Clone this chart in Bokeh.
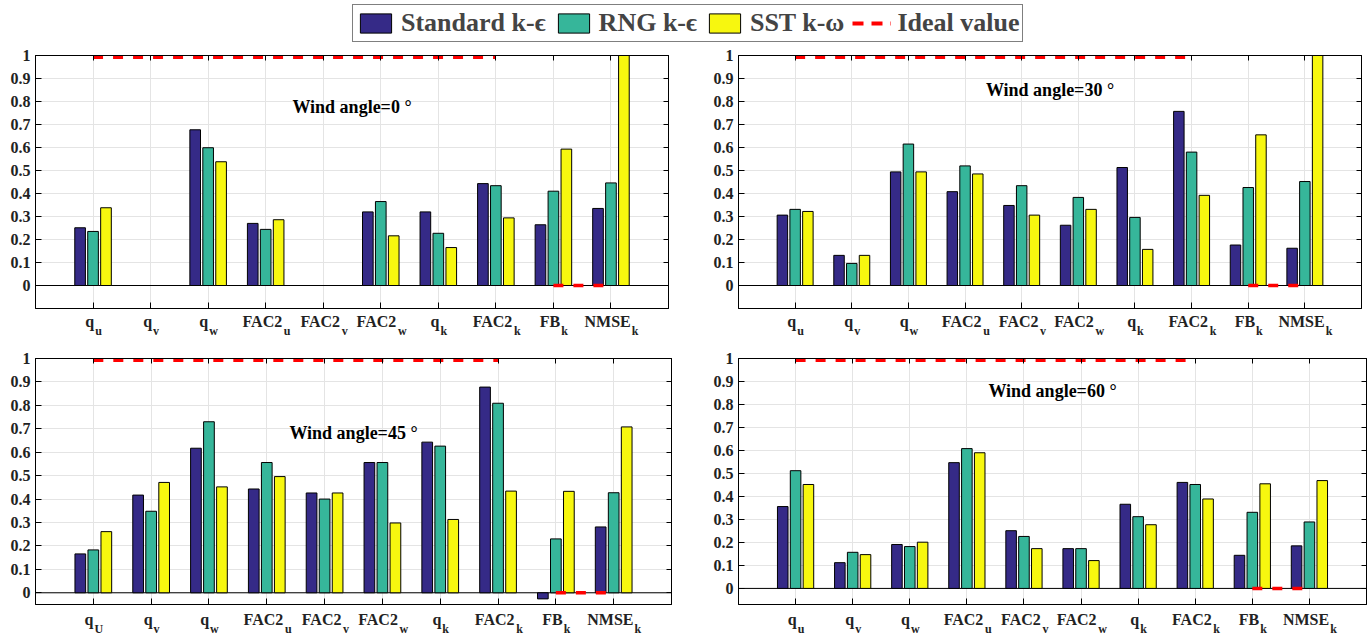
from bokeh.plotting import figure
from bokeh.models import (Range1d, FixedTicker, LinearAxis, ColumnDataSource,
                          Label, Legend, LegendItem, Span)
from bokeh.layouts import column, row
from bokeh.transform import dodge
from bokeh.embed import file_html
from bokeh.resources import INLINE

# ---------------- data ----------------
metric_main = ["q", "q", "q", "FAC2", "FAC2", "FAC2", "q", "FAC2", "FB", "NMSE"]
metric_sub = ["u", "v", "w", "u", "v", "w", "k", "k", "k", "k"]
metric_sub_45 = ["U", "v", "w", "u", "v", "w", "k", "k", "k", "k"]

series_names = ["Standard k-\u03f5", "RNG k-\u03f5", "SST k-\u03c9"]
ideal_name = "Ideal value"
ideal_value = [1, 1, 1, 1, 1, 1, 1, 1, 0, 0]

y_ticks = [0, 0.1, 0.2, 0.3, 0.4, 0.5, 0.6, 0.7, 0.8, 0.9, 1]
y_tick_labels = ["0", "0.1", "0.2", "0.3", "0.4", "0.5", "0.6", "0.7", "0.8", "0.9", "1"]

titles = ["Wind angle=0 \u00b0", "Wind angle=30 \u00b0", "Wind angle=45 \u00b0", "Wind angle=60 \u00b0"]

std_0 = [0.251, 0.0, 0.677, 0.270, 0.0, 0.320, 0.320, 0.443, 0.264, 0.335]
rng_0 = [0.235, 0.0, 0.599, 0.244, 0.0, 0.365, 0.227, 0.434, 0.410, 0.446]
sst_0 = [0.338, 0.0, 0.538, 0.286, 0.0, 0.216, 0.165, 0.294, 0.593, 1.0]

std_30 = [0.306, 0.131, 0.494, 0.408, 0.348, 0.262, 0.513, 0.757, 0.176, 0.162]
rng_30 = [0.331, 0.096, 0.615, 0.520, 0.434, 0.383, 0.296, 0.580, 0.426, 0.452]
sst_30 = [0.322, 0.131, 0.494, 0.485, 0.306, 0.331, 0.157, 0.392, 0.655, 1.0]

std_45 = [0.166, 0.417, 0.617, 0.443, 0.426, 0.556, 0.643, 0.878, -0.026, 0.281]
rng_45 = [0.183, 0.348, 0.730, 0.556, 0.400, 0.556, 0.626, 0.809, 0.230, 0.427]
sst_45 = [0.261, 0.471, 0.452, 0.496, 0.426, 0.298, 0.313, 0.434, 0.433, 0.708]

std_60 = [0.356, 0.112, 0.191, 0.547, 0.251, 0.173, 0.366, 0.461, 0.144, 0.185]
rng_60 = [0.512, 0.157, 0.182, 0.608, 0.226, 0.173, 0.312, 0.452, 0.331, 0.289]
sst_60 = [0.452, 0.147, 0.201, 0.590, 0.173, 0.121, 0.277, 0.389, 0.455, 0.469]

# ---------------- style ----------------
FONT = "Liberation Serif"
COLORS = ["#352a87", "#36b69a", "#f7f70f"]
IDEAL_COLOR = "#ff0000"
GRID = "#e4e4e4"
TXT = "#222222"
MAIN_FS = 16
SUB_FS = 12

# approximate Times-Bold advance widths (em) used to place label + subscript
CW = {"q": .556, "F": .611, "A": .722, "C": .722, "2": .5, "B": .667, "N": .722,
      "M": .944, "S": .556, "E": .667, "u": .556, "v": .5, "w": .722, "k": .556,
      "U": .722}


def tw(s, fs):
    return sum(CW.get(c, .55) for c in s) * fs


x_pos = list(range(1, len(metric_main) + 1))


def label_axis(ticks, labels, fs, standoff):
    ticks = [round(t, 6) for t in ticks]
    ax = LinearAxis(ticker=FixedTicker(ticks=ticks),
                    major_label_overrides={t: l for t, l in zip(ticks, labels)},
                    major_label_text_font=FONT, major_label_text_font_style="bold",
                    major_label_text_font_size=f"{fs}px", major_label_text_color=TXT,
                    major_label_standoff=standoff, axis_line_color=None,
                    major_tick_line_color=None, minor_tick_line_color=None,
                    major_tick_in=0, major_tick_out=0)
    return ax


def tick_only(ax, ticks, tick_len):
    ax.ticker = FixedTicker(ticks=ticks)
    ax.major_label_text_color = None
    ax.major_label_text_font_size = "1px"
    ax.major_label_standoff = 0
    ax.major_tick_in = tick_len
    ax.major_tick_out = 0
    ax.minor_tick_line_color = None
    ax.axis_line_color = "black"
    ax.major_tick_line_color = "black"


def make_panel(std, rng, sst, subs, title, title_y, ylo, width, height,
               bl, br, bt, bb, main_standoff):
    x_end = len(x_pos) + 1
    p = figure(width=width, height=height, x_range=Range1d(0, x_end),
               y_range=Range1d(ylo, 1), toolbar_location=None, output_backend="svg",
               min_border_left=bl, min_border_right=br, min_border_top=bt,
               min_border_bottom=bb)
    p.background_fill_color = "white"
    p.border_fill_color = "white"
    p.outline_line_color = "black"
    p.outline_line_width = 1

    p.add_layout(Span(location=0, dimension="width", line_color="black", line_width=1,
                      level="underlay"))

    src = ColumnDataSource(dict(x=x_pos, std=std, rng=rng, sst=sst))
    offs = [-0.225, 0.0, 0.225]
    for key, off, col in zip(["std", "rng", "sst"], offs, COLORS):
        p.vbar(x=dodge("x", off), top=key, bottom=0, width=0.185, source=src,
               fill_color=col, line_color="black", line_width=1)

    # ideal value dashed lines (contiguous runs); at the frame edge half is clipped
    def draw_run(xs, ys):
        lw = 7 if ys[0] >= 1 else 3.5
        p.line(xs, ys, line_color=IDEAL_COLOR, line_width=lw, line_dash="10 10")

    run_x, run_y = [], []
    for i, v in enumerate(ideal_value):
        if run_y and v != run_y[-1]:
            draw_run(run_x, run_y)
            run_x, run_y = [], []
        run_x.append(x_pos[i])
        run_y.append(v)
    if run_x:
        draw_run(run_x, run_y)

    # grids
    p.xgrid.ticker = FixedTicker(ticks=x_pos)
    p.ygrid.ticker = FixedTicker(ticks=y_ticks)
    p.grid.grid_line_color = GRID
    p.grid.grid_line_width = 1

    # axes
    tick_only(p.xaxis[0], x_pos, 6)
    p.yaxis.ticker = FixedTicker(ticks=y_ticks)
    p.yaxis.major_label_overrides = {t: l for t, l in zip(y_ticks, y_tick_labels)}
    p.yaxis.major_label_text_font = FONT
    p.yaxis.major_label_text_font_style = "bold"
    p.yaxis.major_label_text_font_size = "16px"
    p.yaxis.major_label_text_color = TXT
    p.yaxis.major_label_standoff = 5
    p.yaxis.major_tick_in = 6
    p.yaxis.major_tick_out = 0
    p.yaxis.minor_tick_line_color = None
    p.yaxis.axis_line_color = "black"
    p.yaxis.major_tick_line_color = "black"

    top_ax = LinearAxis()
    tick_only(top_ax, x_pos, 5)
    right_ax = LinearAxis()
    tick_only(right_ax, y_ticks, 5)
    p.add_layout(top_ax, "above")
    p.add_layout(right_ax, "right")

    # category labels: main text and subscript on two label-only axes
    ppu = (width - bl - br) / float(x_end)
    main_ticks = [x - tw(s, SUB_FS) / 2.0 / ppu for x, s in zip(x_pos, subs)]
    sub_ticks = [x + (tw(m, MAIN_FS) / 2.0 + 1) / ppu for x, m in zip(x_pos, metric_main)]
    p.add_layout(label_axis(main_ticks, metric_main, MAIN_FS, main_standoff), "below")
    p.add_layout(label_axis(sub_ticks, subs, SUB_FS, -9), "below")

    p.add_layout(Label(x=x_end / 2.0, y=title_y, text=title, text_align="center",
                       text_baseline="middle", text_font=FONT, text_font_style="bold",
                       text_font_size="18px", text_color="black"))
    return p


# legend figure (its renderers hold real data but lie outside its visible range)
p0 = figure(width=1369, height=45, x_range=(0, 1), y_range=(5, 6), toolbar_location=None,
            output_backend="svg", min_border=0)
p0.axis.visible = False
p0.grid.visible = False
p0.outline_line_color = None
rs = []
for vals, col in zip([std_0, rng_0, sst_0], COLORS):
    rs.append(p0.vbar(x=x_pos, top=vals, width=0.5, fill_color=col, line_color="black",
                      line_width=1))
r_ideal = p0.line(x=x_pos, y=ideal_value, line_color=IDEAL_COLOR, line_width=4,
                  line_dash="11 8")
items = [LegendItem(label=n, renderers=[r]) for n, r in zip(series_names, rs)]
items.append(LegendItem(label=ideal_name, renderers=[r_ideal]))
leg = Legend(items=items, orientation="horizontal", location=(352, 3),
             label_text_font=FONT, label_text_font_style="bold",
             label_text_font_size="26px", glyph_width=39, glyph_height=24,
             label_standoff=6, spacing=8, padding=3, margin=0,
             border_line_color="black", border_line_width=1,
             background_fill_color="white", label_height=24)
p0.add_layout(leg)

p1 = make_panel(std_0, rng_0, sst_0, metric_sub, titles[0], 0.777, -0.1, 700, 295, 35, 32, 10, 32, 4)
p2 = make_panel(std_30, rng_30, sst_30, metric_sub, titles[1], 0.85, -0.1, 669, 295, 38, 8, 10, 32, 4)
p3 = make_panel(std_45, rng_45, sst_45, metric_sub_45, titles[2], 0.68, -0.05, 700, 301, 35, 29, 18, 37, 6)
p4 = make_panel(std_60, rng_60, sst_60, metric_sub, titles[3], 0.86, -0.07, 669, 301, 38, 3, 18, 37, 6)

layout = column(p0, row(p1, p2), row(p3, p4))
open("out.html", "w").write(file_html(layout, INLINE))
